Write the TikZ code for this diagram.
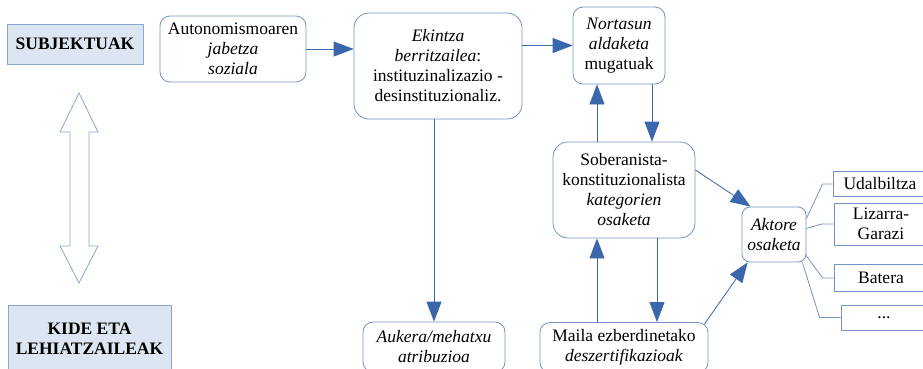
\documentclass[tikz,border=0pt]{standalone}
\usepackage{fontspec}
\setmainfont{Liberation Serif}
\usetikzlibrary{arrows.meta, positioning}
\definecolor{frame}{HTML}{7393C4}
\definecolor{flow}{HTML}{3A66AC}
\definecolor{headfill}{HTML}{DCE6F2}
\definecolor{headline}{HTML}{8CA6CC}
\tikzset{
  box/.style={
    rectangle, rounded corners=10pt,
    draw=frame, fill=white, line width=0.8pt,
    inner sep=0pt, align=center,
    font=\fontsize{17.5}{20}\selectfont
  },
  bigbox/.style={box, rounded corners=15pt},
  sqbox/.style={box, sharp corners},
  headbox/.style={sqbox, fill=headfill, draw=headline, font=\bfseries\fontsize{17.5}{20}\selectfont},
  arrow/.style={-{Triangle[length=20pt,width=15pt]}, line width=0.8pt, draw=flow},
  link/.style={line width=0.8pt, draw=frame},
}

\begin{document}
\begin{tikzpicture}[x=1pt, y=-1pt]
  \useasboundingbox (0,0) rectangle (923,368);
  \clip (0,0) rectangle (923,368);

  % left column
  \node[headbox, minimum width=136pt, minimum height=40pt] (subj) at (75,44) {SUBJEKTUAK};
  \node[headbox, minimum width=163pt, minimum height=68pt] (kide) at (89.5,339) {KIDE ETA\\LEHIATZAILEAK};
  \draw[headline, line width=0.8pt] (79,93) -- (98,132) -- (89,132) -- (89,246) -- (98,246)
    -- (79,283) -- (60,246) -- (70,246) -- (70,132) -- (60,132) -- cycle;

  % middle
  \node[box, minimum width=146pt, minimum height=66pt] (auto) at (233,49)
    {Autonomismoaren\\\textit{jabetza}\\\textit{soziala}};
  \node[bigbox, minimum width=168pt, minimum height=106pt] (ekin) at (438,66)
    {\textit{Ekintza}\\\textit{berritzailea}:\\instituzinalizazio -\\desinstituzionaliz.};
  \node[box, minimum width=142pt, minimum height=50pt] (auke) at (434,347)
    {\textit{Aukera/mehatxu}\\\textit{atribuzioa}};
  \node[box, minimum width=92pt, minimum height=77pt] (nort) at (619,45.5)
    {\textit{Nortasun}\\\textit{aldaketa}\\mugatuak};
  \node[bigbox, minimum width=142pt, minimum height=96pt] (sobe) at (624,190)
    {Soberanista-\\konstituzionalista\\\textit{kategorien}\\\textit{osaketa}};
  \node[box, minimum width=168pt, minimum height=50pt] (mail) at (624,347.5)
    {Maila ezberdinetako\\\textit{deszertifikazioak}};
  \node[box, rounded corners=8pt, minimum width=64pt, minimum height=55pt] (akto) at (774,234.5)
    {\textit{Aktore}\\\textit{osaketa}};

  % right column
  \node[sqbox, minimum width=94pt, minimum height=25pt] (udal) at (880,184) {Udalbiltza};
  \node[sqbox, minimum width=94pt, minimum height=42pt] (liza) at (881,224) {Lizarra-\\Garazi};
  \node[sqbox, minimum width=94pt, minimum height=27pt] (bate) at (881,278) {Batera};
  \node[sqbox, minimum width=86pt, minimum height=25pt] (dots) at (884,317.5) {...};

  % arrows
  \draw[arrow] (auto.east) -- (auto.east -| ekin.west);
  \draw[arrow] (ekin.east |- nort.west) -- (nort.west);
  \draw[arrow] (auke.north |- ekin.south) -- (auke.north);
  \draw[arrow] ([xshift=-27pt]sobe.north) -- ([xshift=-27pt]sobe.north |- nort.south);
  \draw[arrow] ([xshift=28pt]sobe.north |- nort.south) -- ([xshift=28pt]sobe.north);
  \draw[arrow] ([xshift=33pt]sobe.south) -- ([xshift=33pt]sobe.south |- mail.north);
  \draw[arrow] ([xshift=-27pt]sobe.south |- mail.north) -- ([xshift=-27pt]sobe.south);
  \draw[arrow] ([yshift=20pt]sobe.east) -- ([xshift=9pt]akto.north west);
  \draw[arrow] ([xshift=-4pt,yshift=-2pt]mail.north east) -- ([xshift=6pt]akto.south west);

  % links to actors
  \draw[link] ([yshift=16pt]akto.east) -- ([xshift=-10pt]udal.west) -- (udal.west);
  \draw[link] ([yshift=6pt]akto.east) -- ([xshift=-12pt]liza.west) -- (liza.west);
  \draw[link] ([xshift=-1pt,yshift=-20pt]akto.east) -- ([xshift=-11pt]bate.west) -- (bate.west);
  \draw[link] ([xshift=-4pt,yshift=-28pt]akto.east) -- ([xshift=-21pt]dots.west) -- (dots.west);
\end{tikzpicture}
\end{document}
